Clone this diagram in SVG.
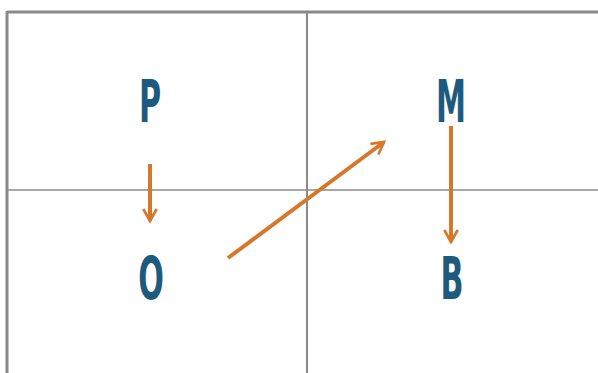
<svg xmlns="http://www.w3.org/2000/svg" width="598" height="373" viewBox="0 0 598 373">
<style>
.grid{stroke:#8a8a8a;fill:none}
.lbl{font-family:"DejaVu Sans",sans-serif;font-weight:bold;font-size:58px;fill:#1c5b7e;text-anchor:middle}
.arr{stroke:#d6782c;stroke-width:4;fill:none;marker-end:url(#ah)}
</style>
<defs>
<marker id="ah" viewBox="0 0 12 12" refX="10" refY="6" markerWidth="4" markerHeight="4" orient="auto" markerUnits="strokeWidth">
<polyline points="1,1 10,6 1,11" fill="none" stroke="#d6782c" stroke-width="2"/>
</marker>
</defs>
<rect x="0" y="0" width="598" height="373" fill="#ffffff"/>
<g id="grid">
<line class="grid" x1="7" y1="12" x2="598" y2="12" stroke-width="3"/>
<line class="grid" x1="7" y1="11" x2="7" y2="373" stroke-width="3"/>
<line class="grid" x1="307" y1="12" x2="307" y2="373" stroke-width="2"/>
<line class="grid" x1="7" y1="190" x2="598" y2="190" stroke-width="1.5"/>
</g>
<g id="P"><text class="lbl" transform="translate(150,122) scale(0.52,1)">P</text></g>
<g id="M"><text class="lbl" transform="translate(451,122) scale(0.52,1)">M</text></g>
<g id="O"><text class="lbl" transform="translate(151,299) scale(0.52,1)">O</text></g>
<g id="B"><text class="lbl" transform="translate(452,299) scale(0.52,1)">B</text></g>
<g id="connectors">
<line class="arr" x1="150" y1="164" x2="150" y2="221"/>
<line class="arr" x1="451" y1="126" x2="451" y2="242"/>
<line class="arr" x1="228" y1="258" x2="384" y2="142"/>
</g>
</svg>
